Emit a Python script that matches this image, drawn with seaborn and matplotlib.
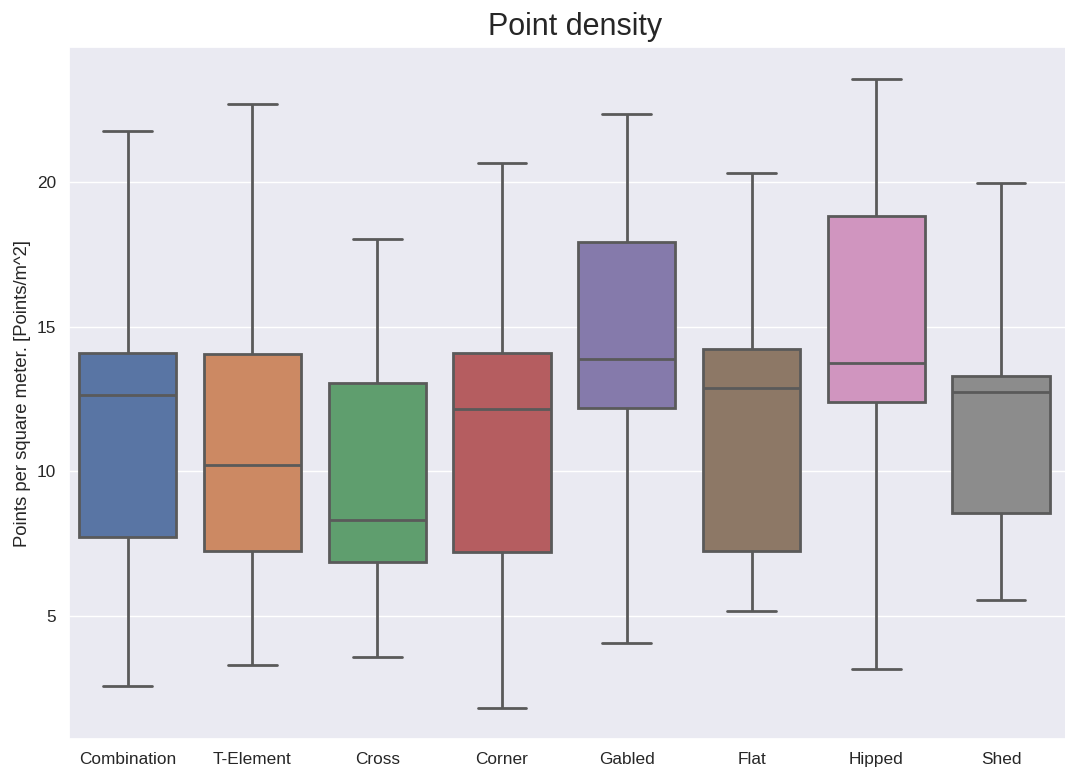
import matplotlib
matplotlib.use("Agg")
import matplotlib.pyplot as plt
import seaborn as sns
import pandas as pd

# Five-number summaries per roof type: min, Q1, median, Q3, max
categories = ["Combination", "T-Element", "Cross", "Corner",
              "Gabled", "Flat", "Hipped", "Shed"]
mins    = [2.56, 3.31, 3.57, 1.82, 4.06, 5.18, 3.15, 5.55]
q1s     = [7.73, 7.24, 6.87, 7.20, 12.20, 7.24, 12.41, 8.57]
medians = [12.64, 10.23, 8.31, 12.14, 13.90, 12.88, 13.76, 12.74]
q3s     = [14.11, 14.06, 13.05, 14.11, 17.94, 14.22, 18.84, 13.31]
maxs    = [21.78, 22.73, 18.05, 20.66, 22.36, 20.34, 23.59, 19.97]

rows = []
for cat, a, b, c, d, e in zip(categories, mins, q1s, medians, q3s, maxs):
    for v in (a, b, c, d, e):
        rows.append({"roof_type": cat, "density": v})
df = pd.DataFrame(rows)

sns.set_theme(style="darkgrid")
plt.rcParams["font.family"] = ["Liberation Sans", "DejaVu Sans"]

fig = plt.figure(figsize=(10.65, 7.69), dpi=100)
ax = fig.add_axes([0.0648, 0.039, 0.9502, 0.8995])

# Whiskers span the full range of each group
sns.boxplot(data=df, x="roof_type", y="density", hue="roof_type",
            order=categories, hue_order=categories, palette="deep",
            legend=False, whis=(0, 100), width=0.78, linewidth=2.0,
            linecolor="#5a5a5a", ax=ax)

ax.set_xlim(-0.47, 7.64)
ax.set_title("Point density", fontsize=22, pad=9)
ax.set_xlabel("")
ax.set_ylabel("Points per square meter. [Points/m^2]", fontsize=13.3)
ax.set_yticks([5, 10, 15, 20])
ax.tick_params(axis="both", labelsize=12.4)

fig.savefig("out.png", dpi=100)
